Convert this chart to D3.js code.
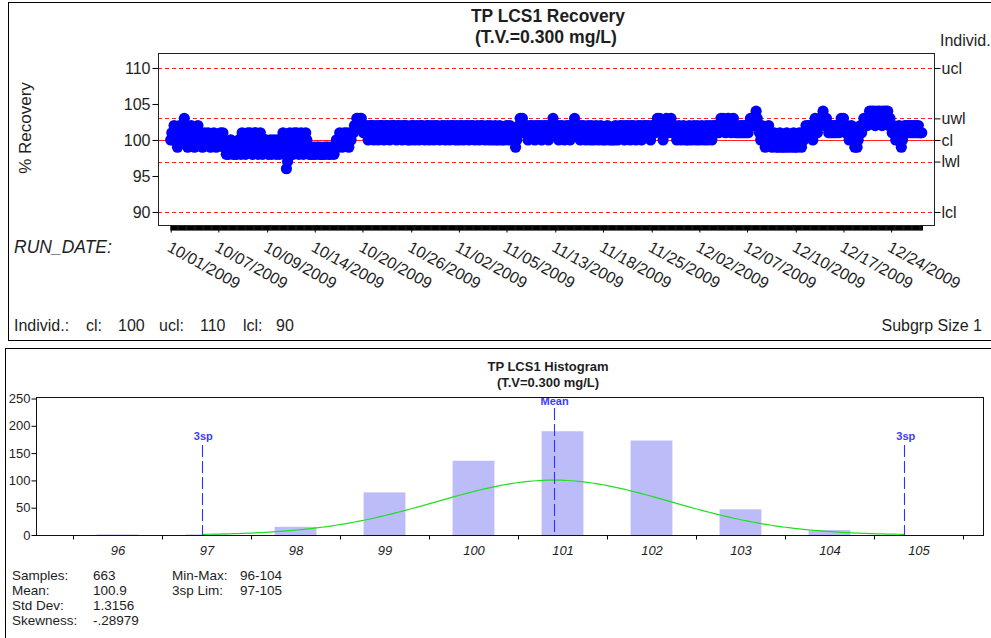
<!DOCTYPE html>
<html>
<head>
<meta charset="utf-8">
<script src="https://cdn.jsdelivr.net/npm/d3@7"></script>
<style>
  body { margin: 0; background: #fff; }
  svg { display: block; font-family: "Liberation Sans", Arial, sans-serif; }
</style>
</head>
<body>
<svg id="chart" width="991" height="638"></svg>
<script>
// ---------- Individual % recovery readings, in run order ----------
const recoveryOct = [
  100,101,100,102,101,100,99,101,102,101, 100,102,103,102,101,99,100,101,102,101,
  100,99,101,100,102,101,100,100,99,100, 101,100,100,101,100,99,100,100,101,100,99,100,
  100,100,101,100,101,99, 99,98,99,98,99,100,99,98, 99,98,98,99,100,99,98,
  101,100,99,98,99,101,100,101,99,98,100,101,101,99,98,99,101,100,98,99,100,
  100,99,98,99,100,98,99,100,99,98,100,99,98,99,100,
  101,100,99,96,97,98,101,100,99,98,101,100,101,99,98,100,101,99,98,99,101,100,99,98,
  99,98,99,
  98,99,98,99,99,98,99,98,98,99,98,99,99,98,99,98,99,99,98,
  99,100,99,100,101,100,99,100,101,100,101,100,99,101,100,101,
  101,102,102,103,103,102,103,
  103,102,101,102,102,101,100,102,101,102, 102,100,101,102,101,100,102,102,101,102,
  100,101,102,102,101,100,102,101,102,102, 101,100,102,101,102,101,100,102,102,101,102,100,
  101,100,102,101,102,100,101,102,101,100, 102,101,102,101,100,101,102,102,100,101,
  102,101,100,102,101,102,101,100,101,102, 101,102,100,101,102,101,100,102,101,102,101,100
];
const recoveryNov = [
  102,101,100,102,101,102,100,101,102,101, 102,100,101,102,102,101,100,101,102,101,
  100,102,101,102,101,100,101,102,101,100, 102,101,100,101,102,100,101,100,102,101,100,101,
  100,101,102,101,100,102,101,100,101,100, 99,100,101,102,103,102,103,101,102,101,
  102,100,101,102,101,102,101,100,102,101, 102,101,102,100,101,102,101,102,101,100,102,101,
  102,103,102,101,102,101,100,102,101,102, 101,100,101,102,101,102,100,101,102,102,
  103,102,101,102,101,100,102,101,102,101, 100,101,102,101,100,102,101,100,101,102,101,100,
  101,102,101,100,101,100,101,102,101,100, 101,100,101,100,102,101,100,101,102,101,
  102,101,100,102,101,102,101,100,102,101, 102,101,100,101,102,101,102,100,101,102,101,102,
  101,102,101,100,102,101,102,101,102,103, 102,103,102,101,100,101,102,103,102,101,
  102,103,102,101,102,101,100,101,102,101, 100,101,102,101,100,101,100,102,101,100,101,102
];
const recoveryDec = [
  101,100,102,101,100,101,102,101,100,101, 102,100,101,102,101,100,102,101,102,101,
  102,101,102,103,102,103,102,101,102,103, 103,102,101,102,103,102,101,102,101,101,102,101,
  102,101,102,101,102,101,102,103,102,103, 102,103,104,103,102,101,100,102,101,100,
  99,101,100,102,101,100,99,100,101,100, 99,100,99,101,100,99,100,99,100,101,99,100,
  100,99,100,101,99,100,99,100,101,100, 99,101,100,101,102,101,102,101,102,101,
  100,102,103,102,101,102,103,102,103,104, 103,102,103,102,101,102,101,102,101,102,101,102,
  102,101,102,103,102,103,102,101,102,101, 100,101,102,101,100,99,100,99,100,101,
  102,101,102,103,102,103,102,103,104,103, 104,103,104,102,103,104,103,104,103,102,104,103,
  104,103,104,102,103,102,101,102,101,100, 101,100,102,101,99,100,101,102,101,102,
  101,102,101,102,101,102,101,102,101,102, 101,101,101
];

// Run-date labels and the run number each one marks
const runDateLabels = [
  "10/01/2009","10/07/2009","10/09/2009","10/14/2009","10/20/2009","10/26/2009",
  "11/02/2009","11/05/2009","11/13/2009","11/18/2009","11/25/2009","12/02/2009",
  "12/07/2009","12/10/2009","12/17/2009","12/24/2009"
];
const runDateIndex = [0,42,85,127,169,212,254,296,339,381,424,466,508,551,593,635];

// Control / warning limits of the individuals chart
const limitNames  = ["ucl","uwl","cl","lwl","lcl"];
const limitValues = [110,103,100,97,90];
const recoveryTicks = [90,95,100,105,110];

// Histogram of the same readings
const histBins   = [96,97,98,99,100,101,102,103,104];
const histCounts = [1,1,15,78,136,190,173,47,9];
const histYTicks = [0,50,100,150,200,250];
const histXLabels = [96,97,98,99,100,101,102,103,104,105];
const histMinorTicks = [95.5,96.5,97.5,98.5,99.5,100.5,101.5,102.5,103.5,104.5,105.5];

// Summary statistics
const sampleCount = 663;
const meanValue = 100.9;
const stdDev = 1.3156;
const statLabels = ["Samples:","Mean:","Std Dev:","Skewness:"];
const statValues = ["663","100.9","1.3156","-.28979"];
const rangeLabels = ["Min-Max:","3sp Lim:"];
const rangeValues = ["96-104","97-105"];

// ---------------------------------------------------------------
const recovery = recoveryOct.concat(recoveryNov, recoveryDec);
const svg = d3.select("#chart");
const ink = "#1e1e1e";
// snap a hairline to a whole (even) device pixel so it stays crisp
const snap = v => Math.round(v / 2) * 2 + 0.5;

// panel frames
svg.append("rect").attr("x", 8.5).attr("y", 2.5).attr("width", 1000).attr("height", 338)
  .attr("fill", "none").attr("stroke", "#000");
svg.append("rect").attr("x", 5.5).attr("y", 348.5).attr("width", 1000).attr("height", 320)
  .attr("fill", "none").attr("stroke", "#000");

// ================= Individuals chart =================
const pb = { left: 158, right: 934, top: 53, bottom: 225 };
const xRun = d3.scaleLinear().domain([-11.19, 672.8]).range([pb.left, pb.right]);
const yRec = d3.scaleLinear().domain([88.19, 112.08]).range([pb.bottom, pb.top]);
const gTop = svg.append("g");

gTop.append("text").attr("x", 548).attr("y", 22).attr("text-anchor", "middle")
  .attr("font-size", 18).attr("font-weight", "bold").attr("fill", ink)
  .attr("textLength", 154).attr("lengthAdjust", "spacingAndGlyphs").text("TP LCS1 Recovery");
gTop.append("text").attr("x", 546).attr("y", 43).attr("text-anchor", "middle")
  .attr("font-size", 18).attr("font-weight", "bold").attr("fill", ink)
  .attr("textLength", 142).attr("lengthAdjust", "spacingAndGlyphs").text("(T.V.=0.300 mg/L)");
gTop.append("text").attr("x", 940).attr("y", 46)
  .attr("font-size", 16).attr("fill", ink).text("Individ.");

// limit lines
gTop.selectAll("line.limit").data(limitValues).join("line").attr("class", "limit")
  .attr("x1", pb.left).attr("x2", pb.right)
  .attr("y1", d => snap(yRec(d))).attr("y2", d => snap(yRec(d)))
  .attr("stroke", "#ff2020").attr("stroke-width", 1.1)
  .attr("stroke-dasharray", (d, i) => limitNames[i] === "cl" ? null : "4,3");

// readings
gTop.selectAll("circle.pt").data(recovery).join("circle").attr("class", "pt")
  .attr("cx", (d, i) => xRun(i)).attr("cy", d => yRec(d)).attr("r", 5.6)
  .attr("fill", "#0000ff");

// plot frame
gTop.append("rect").attr("x", pb.left + 0.5).attr("y", pb.top + 0.5)
  .attr("width", pb.right - pb.left).attr("height", pb.bottom - pb.top)
  .attr("fill", "none").attr("stroke", "#222");

// left axis
const axLeft = gTop.append("g").attr("transform", `translate(${pb.left + 0.5},0)`)
  .call(d3.axisLeft(yRec).tickValues(recoveryTicks).tickSize(6).tickPadding(2));
axLeft.select(".domain").remove();
axLeft.attr("font-size", 16).attr("font-family", null);
axLeft.selectAll("text").attr("fill", ink);

// right axis with limit names
const axRight = gTop.append("g").attr("transform", `translate(${pb.right + 0.5},0)`)
  .call(d3.axisRight(yRec).tickValues(limitValues).tickSize(6).tickPadding(1)
    .tickFormat((d, i) => limitNames[i]));
axRight.select(".domain").remove();
axRight.attr("font-size", 16).attr("font-family", null);
axRight.selectAll("text").attr("fill", ink);

// per-run ticks
const axRuns = gTop.append("g").attr("transform", `translate(0,${pb.bottom + 1})`)
  .call(d3.axisBottom(xRun).tickValues(d3.range(recovery.length)).tickSize(4.5).tickFormat(""));
axRuns.select(".domain").remove();
axRuns.selectAll("line").attr("stroke-width", 1.6);

// labelled date ticks
const axDates = gTop.append("g").attr("transform", `translate(0,${pb.bottom + 1})`)
  .call(d3.axisBottom(xRun).tickValues(runDateIndex).tickSize(6.5)
    .tickFormat((d, i) => runDateLabels[i]));
axDates.select(".domain").remove();
axDates.attr("font-size", 16).attr("font-family", null);
axDates.selectAll("text").attr("fill", ink).attr("x", 0).attr("y", 0).attr("dy", null)
  .attr("text-anchor", "start").attr("transform", "translate(-5,24.5) rotate(29)");

gTop.append("text").attr("transform", "translate(31,128) rotate(-90)").attr("text-anchor", "middle")
  .attr("font-size", 17).attr("fill", ink).text("% Recovery");
gTop.append("text").attr("x", 14).attr("y", 253).attr("font-size", 17.5).attr("font-style", "italic")
  .attr("fill", ink).text("RUN_DATE:");

// footer of the individuals chart
const footer = gTop.append("text").attr("y", 331).attr("font-size", 16).attr("fill", ink);
const footParts = [["Individ.:", 14], ["cl:", 86], [String(limitValues[2]), 118],
  ["ucl:", 159], [String(limitValues[0]), 200], ["lcl:", 243], [String(limitValues[4]), 276]];
footParts.forEach(([t, x]) => footer.append("tspan").attr("x", x).text(t));
gTop.append("text").attr("x", 982).attr("y", 331).attr("text-anchor", "end")
  .attr("font-size", 16).attr("fill", ink).text("Subgrp Size 1");

// ================= Histogram =================
const hb = { left: 36, right: 983, top: 397, bottom: 535 };
const xVal = d3.scaleLinear().domain([95.084, 105.725]).range([hb.left, hb.right]);
const yCnt = d3.scaleLinear().domain([0, 250]).range([hb.bottom, 398.5]);
const gH = svg.append("g");

gH.append("text").attr("x", 548).attr("y", 371).attr("text-anchor", "middle")
  .attr("font-size", 13).attr("font-weight", "bold").attr("fill", ink).text("TP LCS1 Histogram");
gH.append("text").attr("x", 548).attr("y", 387).attr("text-anchor", "middle")
  .attr("font-size", 13).attr("font-weight", "bold").attr("fill", ink).text("(T.V=0.300 mg/L)");

// bars
gH.selectAll("rect.bar").data(histBins).join("rect").attr("class", "bar")
  .attr("x", d => xVal(d - 0.235)).attr("width", d => xVal(d + 0.235) - xVal(d - 0.235))
  .attr("y", (d, i) => yCnt(histCounts[i])).attr("height", (d, i) => yCnt(0) - yCnt(histCounts[i]))
  .attr("fill", "#bcbcf8");

// fitted normal curve between the 3-sigma limits
const lo = meanValue - 3 * stdDev, hi = meanValue + 3 * stdDev;
const density = v => sampleCount * 0.5 / (stdDev * Math.sqrt(2 * Math.PI)) *
  Math.exp(-0.5 * ((v - meanValue) / stdDev) ** 2);
const curveXs = d3.range(0, 201).map(k => lo + (hi - lo) * k / 200);
gH.append("path").datum(curveXs)
  .attr("d", d3.line().x(v => xVal(v)).y(v => yCnt(density(v))))
  .attr("fill", "none").attr("stroke", "#1ee01e").attr("stroke-width", 1.2);

// mean and 3sp markers
const markers = [
  { v: meanValue, label: "Mean", y0: 408, ly: 405 },
  { v: lo, label: "3sp", y0: 445, ly: 440 },
  { v: hi, label: "3sp", y0: 445, ly: 440 }
];
gH.selectAll("line.mk").data(markers).join("line").attr("class", "mk")
  .attr("x1", d => snap(xVal(d.v))).attr("x2", d => snap(xVal(d.v)))
  .attr("y1", d => d.y0).attr("y2", hb.bottom)
  .attr("stroke", "#3030ff").attr("stroke-width", 1.1).attr("stroke-dasharray", "12,4");
gH.selectAll("text.mk").data(markers).join("text").attr("class", "mk")
  .attr("x", d => xVal(d.v) + 1).attr("y", d => d.ly).attr("text-anchor", "middle")
  .attr("font-size", 11).attr("font-weight", "bold").attr("fill", "#3c3cff").text(d => d.label);

// frame
gH.append("rect").attr("x", hb.left + 0.5).attr("y", hb.top + 0.5)
  .attr("width", hb.right - hb.left).attr("height", hb.bottom - hb.top)
  .attr("fill", "none").attr("stroke", "#111");

// axes
const hLeft = gH.append("g").attr("transform", `translate(${hb.left + 0.5},0)`)
  .call(d3.axisLeft(yCnt).tickValues(histYTicks).tickSize(5).tickPadding(1));
hLeft.select(".domain").remove();
hLeft.attr("font-size", 13).attr("font-family", null);
hLeft.selectAll("text").attr("fill", ink);

const hMinor = gH.append("g").attr("transform", `translate(0,${hb.bottom + 0.5})`)
  .call(d3.axisBottom(xVal).tickValues(histMinorTicks).tickSize(4).tickFormat(""));
hMinor.select(".domain").remove();

const hBottom = gH.append("g").attr("transform", `translate(0,${hb.bottom + 0.5})`)
  .call(d3.axisBottom(xVal).tickValues(histXLabels).tickSize(0).tickPadding(10).tickFormat(d3.format("d")));
hBottom.select(".domain").remove();
hBottom.attr("font-size", 13).attr("font-family", null);
hBottom.selectAll("text").attr("fill", ink).attr("font-style", "italic");

// statistics block
const stats = gH.append("g").attr("font-size", 13.5).attr("fill", ink);
statLabels.forEach((t, i) => {
  stats.append("text").attr("x", 12).attr("y", 580 + i * 15).text(t);
  stats.append("text").attr("x", 93).attr("y", 580 + i * 15).text(statValues[i]);
});
rangeLabels.forEach((t, i) => {
  stats.append("text").attr("x", 172).attr("y", 580 + i * 15).text(t);
  stats.append("text").attr("x", 240).attr("y", 580 + i * 15).text(rangeValues[i]);
});
</script>
</body>
</html>
